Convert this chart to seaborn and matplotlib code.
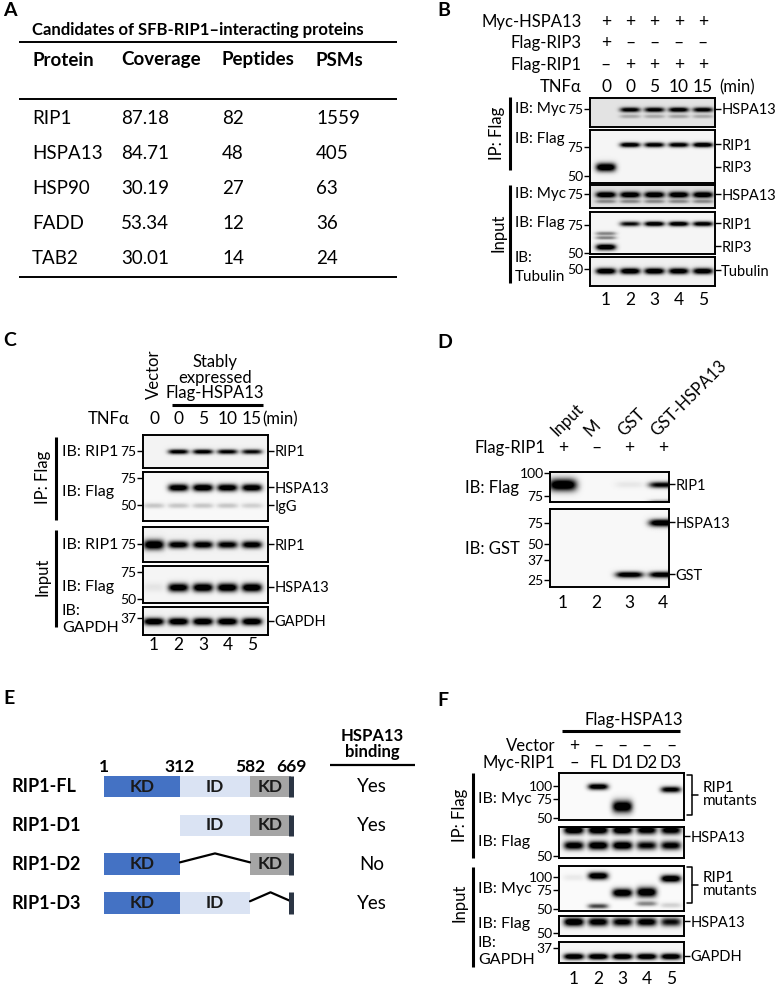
import numpy as np
import matplotlib
matplotlib.use('Agg')
import matplotlib.pyplot as plt
import matplotlib.ticker as mticker
import matplotlib.transforms as mtransforms
import seaborn as sns

sns.set_theme(style='white')
plt.rcParams['font.family'] = ['Lato', 'DejaVu Sans']
for k in ['text.color', 'axes.edgecolor', 'xtick.color', 'ytick.color', 'axes.labelcolor']:
    plt.rcParams[k] = 'black'

# ---------------- Panel A: mass spec table ----------------
A_columns = ['Protein', 'Coverage', 'Peptides', 'PSMs']
A_protein = ['RIP1', 'HSPA13', 'HSP90', 'FADD', 'TAB2']
A_coverage = ['87.18', '84.71', '30.19', '53.34', '30.01']
A_peptides = [82, 48, 27, 12, 14]
A_psms = [1559, 405, 63, 36, 24]

# ---------------- Panel B ----------------
B_myc_hspa13 = ['+', '+', '+', '+', '+']
B_flag_rip3 = ['+', '–', '–', '–', '–']
B_flag_rip1 = ['–', '+', '+', '+', '+']
B_tnf = ['0', '0', '5', '10', '15']
B_ip_myc = [0.0, 0.85, 0.85, 0.9, 0.85]          # HSPA13 ~75 kDa
B_ip_myc_low = [0.0, 0.2, 0.2, 0.22, 0.2]
B_ip_flag_rip1 = [0.0, 0.95, 0.9, 0.9, 1.0]
B_ip_flag_rip3 = [1.0, 0.0, 0.0, 0.0, 0.0]
B_in_myc = [1.0, 1.0, 1.0, 1.0, 1.0]
B_in_myc_low = [0.3, 0.3, 0.3, 0.3, 0.3]
B_in_flag_rip1 = [0.0, 0.75, 0.95, 0.95, 0.9]
B_in_flag_rip3 = [1.0, 0.0, 0.0, 0.0, 0.0]
B_in_flag_rip3_up = [0.35, 0.0, 0.0, 0.0, 0.0]
B_tubulin = [1.0, 1.0, 1.0, 0.95, 0.95]
B_kda = {'HSPA13': 75, 'HSPA13_low': 68, 'RIP1_ip': 78, 'RIP3': 57,
         'RIP1_in': 77, 'RIP3_a': 67, 'RIP3_b': 63, 'RIP3_in': 55, 'Tubulin': 49}

# ---------------- Panel C ----------------
C_groups = ['Vector', 'Stably expressed Flag-HSPA13']
C_tnf = ['0', '0', '5', '10', '15']
C_ip_rip1 = [0.0, 0.85, 0.85, 0.8, 0.75]
C_ip_flag = [0.0, 0.95, 1.0, 0.95, 0.95]
C_ip_igg = [0.15, 0.15, 0.15, 0.15, 0.12]
C_in_rip1 = [1.0, 0.9, 0.9, 0.85, 0.9]
C_in_flag = [0.05, 0.95, 1.0, 1.0, 1.0]
C_gapdh = [1.0, 1.0, 1.0, 1.0, 1.0]
C_kda = {'RIP1': 75, 'HSPA13_ip': 65.5, 'IgG': 50, 'HSPA13_in': 60, 'GAPDH': 35.5}

# ---------------- Panel D ----------------
D_lanes = ['Input', 'M', 'GST', 'GST-HSPA13']
D_flag_rip1 = ['+', '–', '+', '+']
D_flag = [1.0, 0.0, 0.05, 0.8]
D_flag_low = [0.0, 0.0, 0.0, 0.2]
D_gst_hspa13 = [0.0, 0.0, 0.0, 1.0]
D_gst = [0.0, 0.0, 0.95, 0.95]
D_kda = {'RIP1': 87, 'RIP1_low': 71, 'HSPA13': 76, 'GST': 28}

# ---------------- Panel E ----------------
E_constructs = ['RIP1-FL', 'RIP1-D1', 'RIP1-D2', 'RIP1-D3']
E_binding = ['Yes', 'Yes', 'No', 'Yes']
E_bounds = [1, 312, 582, 669]
E_domains = ['KD', 'ID', 'KD']
E_present = [[1, 1, 1], [0, 1, 1], [1, 0, 1], [1, 1, 0]]

# ---------------- Panel F ----------------
F_vector = ['+', '–', '–', '–', '–']
F_myc_rip1 = ['–', 'FL', 'D1', 'D2', 'D3']
F_ip_myc_kda = [100, 100, 65, 60, 94]
F_ip_myc = [0.0, 0.95, 1.0, 0.0, 0.85]
F_ip_flag_kda = [74, 59]
F_ip_flag_hi = [1.0, 1.0, 1.0, 0.9, 0.9]
F_ip_flag_lo = [0.9, 1.0, 1.0, 0.8, 0.85]
F_in_myc_kda = [100, 104, 72, 73, 98]
F_in_myc = [0.05, 1.0, 1.0, 1.0, 1.0]
F_in_myc_deg_kda = [55, 54, 55, 57, 55]
F_in_myc_deg = [0.0, 0.55, 0.0, 0.35, 0.12]
F_in_flag = [1.0, 0.9, 0.85, 0.9, 0.75]
F_gapdh = [1.0, 1.0, 1.0, 1.0, 1.0]
F_kda = {'HSPA13': 59.5, 'GAPDH': 33}

# ---------------- figure ----------------
W, H = 778, 986
fig = plt.figure(figsize=(W / 100, H / 100), dpi=100)
ov = fig.add_axes([0, 0, 1, 1], zorder=-1)
ov.set_xlim(0, W)
ov.set_ylim(H, 0)
ov.axis('off')

FS = 11.5      # general labels
FS_NUM = 12.5  # lane numbers / signs
FS_MK = 10     # marker kDa
FS_R = 10.5    # right-hand band names


def T(x, y, s, **kw):
    kw.setdefault('fontsize', FS)
    kw.setdefault('va', 'center')
    return ov.text(x, y, s, **kw)


def vline(x, y0, y1, lw=2.2):
    ov.plot([x, x], [y0, y1], color='black', lw=lw, solid_capstyle='butt')


def hline(y, x0, x1, lw=1.4):
    ov.plot([x0, x1], [y, y], color='black', lw=lw, solid_capstyle='butt')


def px_axes(x0, y0, x1, y1):
    return fig.add_axes([x0 / W, 1 - y1 / H, (x1 - x0) / W, (y1 - y0) / H])


def lane_tf(ax):
    return mtransforms.blended_transform_factory(ax.transData, ov.transData)


def blot(box, lanes_px, n, refs, markers, bands, right=None, bg=0.04):
    x0, x1, y0, y1 = box
    ax = px_axes(x0, y0, x1, y1)
    ka, pa = refs[0]
    if len(refs) > 1:
        kb, pb = refs[1]
        s = (pb - pa) / np.log(ka / kb)
    else:
        s = 68.0
    ln_top = np.log(ka) + (pa - y0) / s
    ln_bot = np.log(ka) - (y1 - pa) / s
    sp = (lanes_px[1] - lanes_px[0]) / (n - 1)
    xl = (1 - (lanes_px[0] - x0) / sp, n + (x1 - lanes_px[1]) / sp)
    xs = np.linspace(xl[0], xl[1], 300)
    ys = np.exp(np.linspace(ln_bot, ln_top, 200))
    X, Y = np.meshgrid(xs, ys)
    val = np.zeros_like(X)
    for kda, inten, fw in bands:
        kda = np.broadcast_to(np.asarray(kda, float), (n,))
        fw = np.broadcast_to(np.asarray(fw, float), (n,))
        for i in range(n):
            if inten[i] <= 0:
                continue
            fx = np.exp(-((X - (i + 1)) / 0.41) ** 4)
            sig = fw[i] / 2.355 / s
            fy = np.exp(-0.5 * ((np.log(Y) - np.log(kda[i])) / sig) ** 2)
            val += inten[i] * fx * fy
    img = bg + (1 - bg) * np.clip(1.3 * val, 0, 1)
    ax.pcolormesh(X, Y, img, cmap='gray_r', vmin=0, vmax=1, shading='gouraud', rasterized=True)
    ax.set_yscale('log')
    ax.set_xlim(xl)
    ax.set_ylim(np.exp(ln_bot), np.exp(ln_top))
    ax.set_xticks([])
    ax.set_yticks(markers, labels=[str(m) for m in markers])
    ax.yaxis.set_minor_locator(mticker.NullLocator())
    ax.tick_params(axis='y', left=True, length=4, width=1, pad=0.5, labelsize=FS_MK)
    for sp_ in ax.spines.values():
        sp_.set_visible(True)
        sp_.set_linewidth(1.4)
        sp_.set_color('black')
    if right:
        ax2 = ax.twinx()
        ax2.set_yscale('log')
        ax2.set_ylim(ax.get_ylim())
        ax2.set_yticks([r[0] for r in right], labels=[r[1] for r in right])
        ax2.yaxis.set_minor_locator(mticker.NullLocator())
        ax2.tick_params(axis='y', right=True, length=4, width=1, pad=0.5, labelsize=FS_R)
        for sp_ in ax2.spines.values():
            sp_.set_visible(False)
    return ax


# ================= Panel A =================
T(3, 10, 'A', fontsize=14, fontweight='bold')
T(32, 30, 'Candidates of SFB-RIP1–interacting proteins', fontsize=12, fontweight='bold')
for y in (42, 99, 277):
    hline(y, 19, 397)
colx = [32, 121, 222, 316]
for cx, c in zip(colx, A_columns):
    T(cx, 60, c, fontsize=13.5, fontweight='bold')
for i, row in enumerate(zip(A_protein, A_coverage, A_peptides, A_psms)):
    for cx, v in zip(colx, row):
        T(cx, 119 + i * 34.8, str(v), fontsize=13.5)

# ================= Panel B =================
T(437, 11, 'B', fontsize=14, fontweight='bold')
bx = (590, 715)
bl = (606, 703)
b1 = blot((*bx, 98, 127), bl, 5, [(75, 109)], [75],
          [(B_kda['HSPA13'], B_ip_myc, 4), (B_kda['HSPA13_low'], B_ip_myc_low, 3)],
          right=[(B_kda['HSPA13'], 'HSPA13')], bg=0.11)
blot((*bx, 130, 183), bl, 5, [(75, 147), (50, 176)], [75, 50],
     [(B_kda['RIP1_ip'], B_ip_flag_rip1, 4), (B_kda['RIP3'], B_ip_flag_rip3, 7)],
     right=[(B_kda['RIP1_ip'], 'RIP1'), (B_kda['RIP3'], 'RIP3')], bg=0.04)
blot((*bx, 185, 208), bl, 5, [(75, 194)], [75],
     [(B_kda['HSPA13'], B_in_myc, 5), (B_kda['HSPA13_low'], B_in_myc_low, 3)],
     right=[(B_kda['HSPA13'], 'HSPA13')], bg=0.12)
blot((*bx, 212, 254), bl, 5, [(75, 225), (50, 253)], [75, 50],
     [(B_kda['RIP1_in'], B_in_flag_rip1, 4), (B_kda['RIP3_in'], B_in_flag_rip3, 5),
      (B_kda['RIP3_a'], B_in_flag_rip3_up, 3), (B_kda['RIP3_b'], B_in_flag_rip3_up, 3)],
     right=[(B_kda['RIP1_in'], 'RIP1'), (B_kda['RIP3_in'], 'RIP3')], bg=0.04)
blot((*bx, 257, 286), bl, 5, [(50, 269)], [50],
     [(B_kda['Tubulin'], B_tubulin, 5)],
     right=[(B_kda['Tubulin'], 'Tubulin')], bg=0.06)

tf = lane_tf(b1)
for y, lab, vals in [(22, 'Myc-HSPA13', B_myc_hspa13), (43, 'Flag-RIP3', B_flag_rip3),
                     (65, 'Flag-RIP1', B_flag_rip1), (87, 'TNFα', B_tnf)]:
    T(582, y, lab, ha='right', fontsize=12)
    for i, v in enumerate(vals):
        T(i + 1, y, v, ha='center', transform=tf, fontsize=FS_NUM)
T(719, 87, '(min)', fontsize=12)
for i in range(5):
    T(i + 1, 300, str(i + 1), ha='center', transform=tf, fontsize=FS_NUM)
for y, lab in [(109, 'IB: Myc'), (139, 'IB: Flag'), (194, 'IB: Myc'), (223, 'IB: Flag'),
               (258, 'IB:'), (277, 'Tubulin')]:
    T(515, y, lab, fontsize=11)
vline(510, 97, 170)
vline(510, 185, 283)
T(497, 133, 'IP: Flag', rotation=90, ha='center', fontsize=12)
T(499, 233, 'Input', rotation=90, ha='center', fontsize=12)

# ================= Panel C =================
T(3, 340, 'C', fontsize=14, fontweight='bold')
cx_ = (143, 268)
cl = (154, 252)
c1 = blot((*cx_, 435, 468), cl, 5, [(75, 451)], [75],
          [(C_kda['RIP1'], C_ip_rip1, 4)], right=[(C_kda['RIP1'], 'RIP1')], bg=0.05)
blot((*cx_, 472, 521), cl, 5, [(75, 478), (50, 505)], [75, 50],
     [(C_kda['HSPA13_ip'], C_ip_flag, 6), (C_kda['IgG'], C_ip_igg, 4)],
     right=[(C_kda['HSPA13_ip'], 'HSPA13'), (C_kda['IgG'], 'IgG')], bg=0.03)
blot((*cx_, 527, 562), cl, 5, [(75, 544)], [75],
     [(C_kda['RIP1'], C_in_rip1, [8, 6, 6, 6, 6])], right=[(C_kda['RIP1'], 'RIP1')], bg=0.05)
blot((*cx_, 566, 603), cl, 5, [(75, 572), (50, 599)], [75, 50],
     [(C_kda['HSPA13_in'], C_in_flag, 7)], right=[(C_kda['HSPA13_in'], 'HSPA13')], bg=0.04)
blot((*cx_, 607, 635), cl, 5, [(37, 618)], [37],
     [(C_kda['GAPDH'], C_gapdh, 6)], right=[(C_kda['GAPDH'], 'GAPDH')], bg=0.05)

tf = lane_tf(c1)
T(1, 399, C_groups[0], rotation=90, ha='center', va='bottom', transform=tf, fontsize=12)
for j, line in enumerate(['Stably', 'expressed', 'Flag-HSPA13']):
    T(3.5, 362 + j * 15.5, line, ha='center', transform=tf, fontsize=12)
ov.plot([1.73, 5.45], [405, 405], color='black', lw=2.2, transform=tf, solid_capstyle='butt')
T(130, 419, 'TNFα', ha='right', fontsize=12)
for i, v in enumerate(C_tnf):
    T(i + 1, 419, v, ha='center', transform=tf, fontsize=FS_NUM)
T(262, 419, '(min)', fontsize=12)
for i in range(5):
    T(i + 1, 645, str(i + 1), ha='center', transform=tf, fontsize=FS_NUM)
for y, lab in [(452, 'IB: RIP1'), (492, 'IB: Flag'), (545, 'IB: RIP1'), (587, 'IB: Flag'),
               (611, 'IB:'), (628, 'GAPDH')]:
    T(62, y, lab, fontsize=11.5)
vline(56, 437, 520)
vline(56, 530, 627)
T(43, 477, 'IP: Flag', rotation=90, ha='center', fontsize=12)
T(43, 577, 'Input', rotation=90, ha='center', fontsize=12)

# ================= Panel D =================
T(437, 342, 'D', fontsize=14, fontweight='bold')
dx = (550, 669)
dl = (563, 663)
d1 = blot((*dx, 472, 502), dl, 4, [(100, 473), (75, 496)], [100, 75],
          [(D_kda['RIP1'], D_flag, [10, 5, 5, 5]), (D_kda['RIP1_low'], D_flag_low, 3)],
          right=[(D_kda['RIP1'], 'RIP1')], bg=0.03)
blot((*dx, 509, 587), dl, 4, [(75, 523), (25, 580)], [75, 50, 37, 25],
     [(D_kda['HSPA13'], D_gst_hspa13, 6), (D_kda['GST'], D_gst, 5)],
     right=[(D_kda['HSPA13'], 'HSPA13'), (D_kda['GST'], 'GST')], bg=0.03)
tf = lane_tf(d1)
for i, lab in enumerate(D_lanes):
    T(i + 1 - 0.17, 437, lab, rotation=45, rotation_mode='anchor', ha='left', va='baseline',
      transform=tf, fontsize=12)
T(546, 448, 'Flag-RIP1', ha='right', fontsize=12)
for i, v in enumerate(D_flag_rip1):
    T(i + 1, 448, v, ha='center', transform=tf, fontsize=FS_NUM)
for i in range(4):
    T(i + 1, 603, str(i + 1), ha='center', transform=tf, fontsize=FS_NUM)
T(465, 488, 'IB: Flag', fontsize=12)
T(465, 549, 'IB: GST', fontsize=12)

# ================= Panel E =================
T(3, 699, 'E', fontsize=14, fontweight='bold')
kr = [-5000, 1, 312, 582, 669, 5000]
kp = [104 - 5001 * 0.2444, 104, 180, 250, 291, 291 + 4331 * 0.47]


def e_fwd(r):
    return np.interp(r, kr, kp)


def e_inv(p):
    return np.interp(p, kp, kr)


ex0, ey0, ex1, ey1 = 95, 760, 310, 925
axE = px_axes(ex0, ey0, ex1, ey1)
axE.set_xscale('function', functions=(e_fwd, e_inv))
axE.set_xlim(e_inv(ex0), e_inv(ex1))
row0, rsp = 786.5, 38.9
axE.set_ylim(3 + (ey1 - row0 - 3 * rsp) / rsp, (ey0 - row0) / rsp)
axE.axis('off')
dom_colors = ['#4472C4', '#DAE3F3', '#A5A5A5']
bh = 0.56
for r, pres in enumerate(E_present):
    for k, (on, name, col) in enumerate(zip(pres, E_domains, dom_colors)):
        a, b = E_bounds[k], E_bounds[k + 1]
        if on:
            axE.barh(r, b - a, left=a, height=bh, color=col, linewidth=0)
            axE.text((a + b) / 2, r, name, ha='center', va='center', fontsize=12.5,
                     fontweight='bold', color='#1a1a1a')
        elif k > 0:
            axE.plot([a, (a + b) / 2, b], [r - 0.05, r - bh / 2, r - 0.05],
                     color='black', lw=1.6)
    axE.plot([E_bounds[-1], E_bounds[-1]], [r - bh / 2, r + bh / 2], color='#2B3544',
             lw=3.6, solid_capstyle='butt')
for b in E_bounds:
    axE.text(b, -0.37, str(b), ha='center', va='baseline', fontsize=12.5, fontweight='bold')
tfE = mtransforms.blended_transform_factory(ov.transData, axE.transData)
for r, (c, bnd) in enumerate(zip(E_constructs, E_binding)):
    ov.text(12, r, c, transform=tfE, va='center', fontsize=13, fontweight='bold')
    ov.text(372, r, bnd, transform=tfE, va='center', ha='center', fontsize=13.5)
T(372, 736, 'HSPA13', ha='center', fontsize=12, fontweight='bold')
T(372, 752, 'binding', ha='center', fontsize=12, fontweight='bold')
hline(765, 330, 415, lw=1.6)

# ================= Panel F =================
T(437, 700, 'F', fontsize=14, fontweight='bold')
fx_ = (559, 684)
fl = (574, 671)
f1 = blot((*fx_, 773, 820), fl, 5, [(100, 786), (50, 818)], [100, 75, 50],
          [(F_ip_myc_kda, F_ip_myc, [5, 5, 10, 5, 5])], bg=0.02)
blot((*fx_, 827, 858), fl, 5, [(50, 856)], [50],
     [(F_ip_flag_kda[0], F_ip_flag_hi, 7), (F_ip_flag_kda[1], F_ip_flag_lo, 7)],
     right=[(67, 'HSPA13')], bg=0.03)
blot((*fx_, 866, 911), fl, 5, [(100, 877), (50, 909)], [100, 75, 50],
     [(F_in_myc_kda, F_in_myc, [5, 6, 7, 8, 6]), (F_in_myc_deg_kda, F_in_myc_deg, 4)],
     bg=0.02)
blot((*fx_, 916, 936), fl, 5, [(50, 933)], [50],
     [(F_kda['HSPA13'], F_in_flag, 7)], right=[(F_kda['HSPA13'], 'HSPA13')], bg=0.04)
blot((*fx_, 942, 963), fl, 5, [(37, 948)], [37],
     [(F_kda['GAPDH'], F_gapdh, 5)], right=[(F_kda['GAPDH'], 'GAPDH')], bg=0.04)
tf = lane_tf(f1)
T(3.45, 720, 'Flag-HSPA13', ha='center', transform=tf, fontsize=12)
hline(731, 562, 680, lw=2.2)
T(555, 746, 'Vector', ha='right', fontsize=12)
T(555, 763, 'Myc-RIP1', ha='right', fontsize=12)
for i, (v, m) in enumerate(zip(F_vector, F_myc_rip1)):
    T(i + 1, 746, v, ha='center', transform=tf, fontsize=FS_NUM)
    T(i + 1, 763, m, ha='center', transform=tf, fontsize=12)
for i in range(5):
    T(i + 1, 979, str(i + 1), ha='center', transform=tf, fontsize=FS_NUM)
for y, lab in [(799, 'IB: Myc'), (842, 'IB: Flag'), (889, 'IB: Myc'), (924, 'IB: Flag'),
               (943, 'IB:'), (960, 'GAPDH')]:
    T(478, y, lab, fontsize=11.5)
vline(473, 773, 858)
vline(473, 867, 967)
T(460, 815, 'IP: Flag', rotation=90, ha='center', fontsize=12)
T(460, 903, 'Input', rotation=90, ha='center', fontsize=12)
for yt, yb in [(775, 815), (867, 903)]:
    ov.plot([687, 692, 692, 687], [yt, yt, yb, yb], color='black', lw=1.1)
    ov.plot([692, 698], [(yt + yb) / 2, (yt + yb) / 2], color='black', lw=1.1)
    T(703, (yt + yb) / 2 - 7, 'RIP1', fontsize=11)
    T(703, (yt + yb) / 2 + 6, 'mutants', fontsize=11)

fig.savefig('out.png', dpi=100, facecolor='white')
